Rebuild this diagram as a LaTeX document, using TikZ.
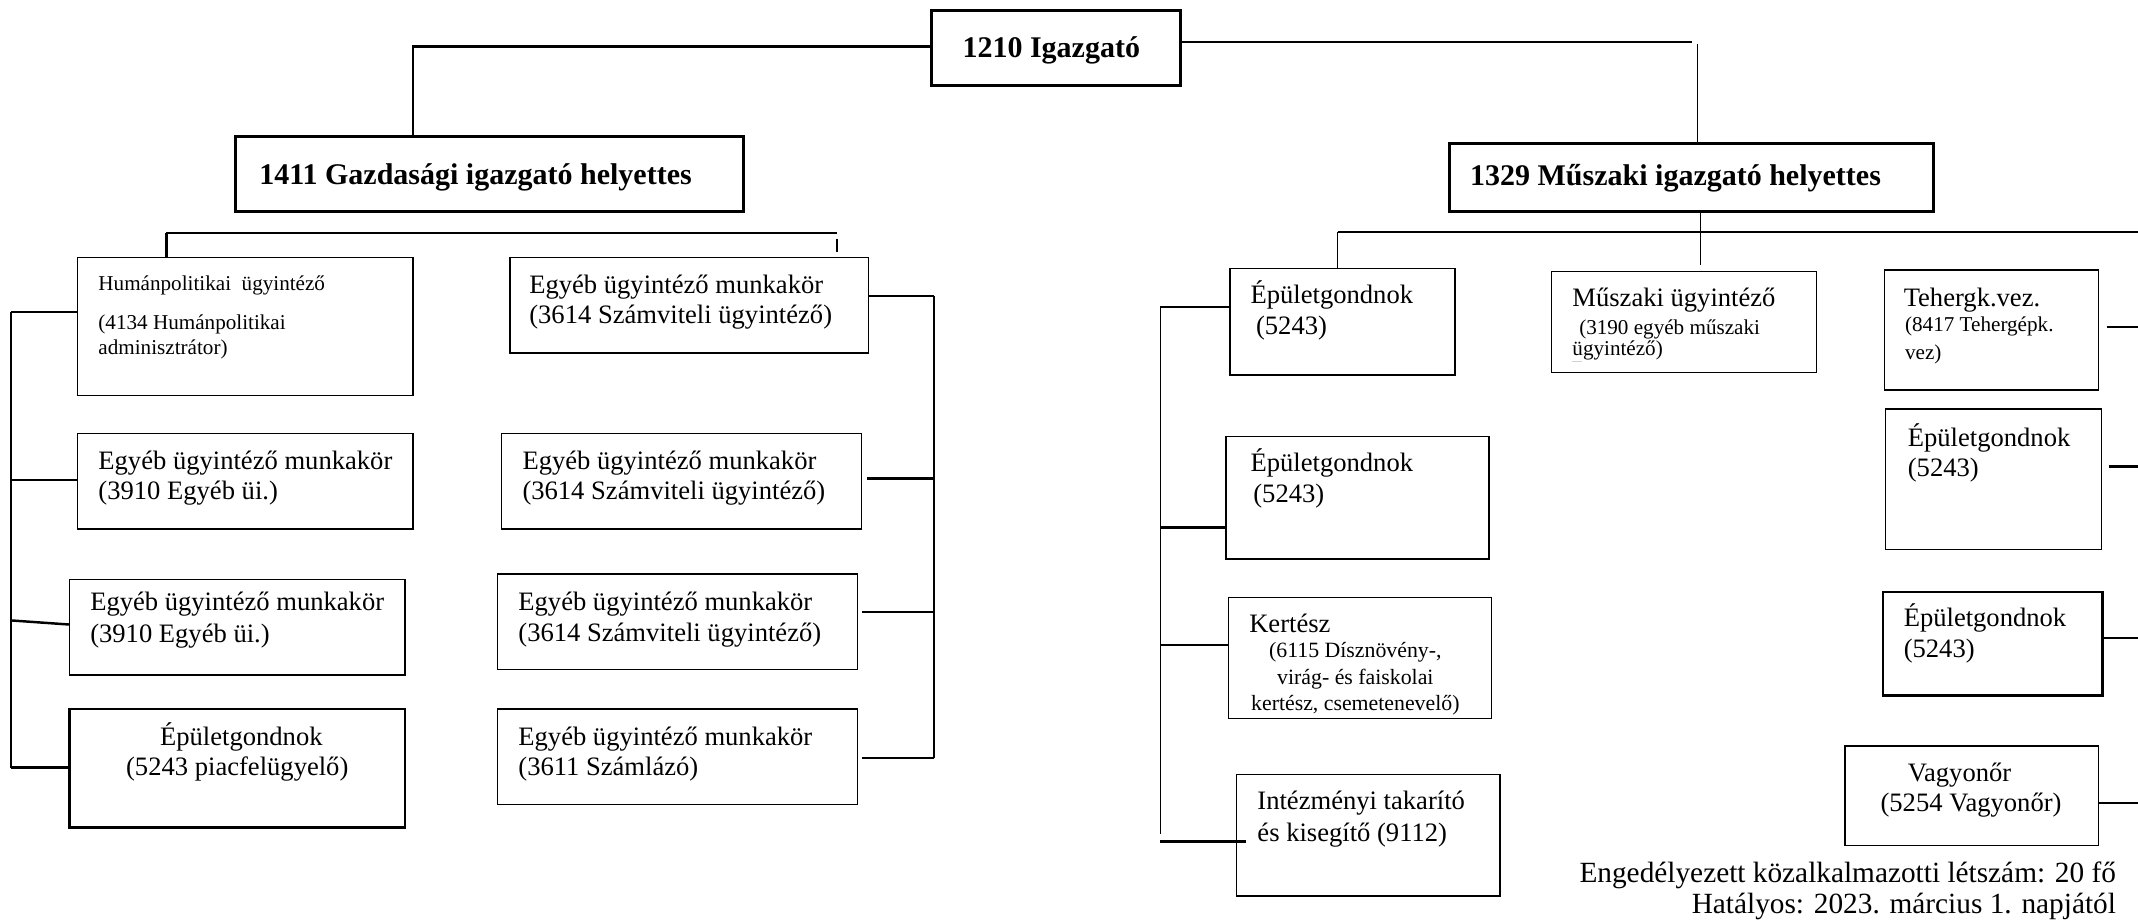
\documentclass[tikz,border=0pt]{standalone}
\usepackage{fontspec}
\setmainfont{Liberation Serif}
\usetikzlibrary{fit}
\begin{document}
\begin{tikzpicture}[x=1pt,y=-1pt,
  box/.style={draw, line width=1pt, inner sep=0pt},
  mbox/.style={box, line width=1.8pt},
  tbox/.style={box, line width=2.2pt},
  conn/.style={line width=1.8pt},
  thin/.style={line width=1.1pt},
  nt/.style={inner sep=0pt, anchor=base west, font=\fontsize{19.5}{22}\selectfont},
  st/.style={nt, font=\fontsize{15.5}{18}\selectfont},
  kt/.style={inner sep=0pt, anchor=base, font=\fontsize{16}{18}\selectfont},
  bt/.style={inner sep=0pt, anchor=base west, font=\fontsize{22}{26}\selectfont\bfseries}]
\useasboundingbox (0,0) rectangle (1568,675);

% ---------- boxes ----------
\node[tbox, fit={(683,8) (866,63)}] (boss) {};
\node[tbox, fit={(173,100) (545,155)}] (gaz) {};
\node[tbox, fit={(1063,105) (1418,155)}] (mus) {};

\node[box, fit={(57,189) (303,290)}] (L1) {};
\node[box, fit={(57,318) (303,388)}] (L2) {};
\node[box, fit={(51,425) (297,495)}] (L3) {};
\node[mbox, fit={(51,520) (297,607)}] (L4) {};
\node[box, fit={(374,189) (637,259)}] (R1) {};
\node[box, fit={(368,318) (632,388)}] (R2) {};
\node[box, fit={(365,421) (629,491)}] (R3) {};
\node[box, fit={(365,520) (629,590)}] (R4) {};

\node[box, fit={(902,197) (1067,275)}] (E1) {};
\node[box, fit={(1138,199) (1332,273)}] (MU) {};
\node[box, fit={(1382,198) (1539,286)}] (T) {};
\node[box, fit={(899,320) (1092,410)}] (E2) {};
\node[box, fit={(901,438) (1094,527)}] (K) {};
\node[box, fit={(907,568) (1100,657)}] (I) {};
\node[box, fit={(1383,300) (1541,403)}] (E2r) {};
\node[mbox, fit={(1381,434) (1542,510)}] (E3r) {};
\node[box, fit={(1353,547) (1539,620)}] (V) {};

% ---------- texts ----------
\node[bt, anchor=base] (tboss) at (771,42) {1210 Igazgató};
\node[bt] (tgaz) at (190,135) {1411 Gazdasági igazgató helyettes};
\node[bt] (tmus) at (1078,136) {1329 Műszaki igazgató helyettes};

\node[st] (tL1a) at (72,213) {Humánpolitikai\ \ ügyintéző};
\node[st] (tL1b) at (72,242) {(4134 Humánpolitikai};
\node[st] (tL1c) at (72,260) {adminisztrátor)};
\node[nt] (tL2a) at (72,344.5) {Egyéb ügyintéző munkakör};
\node[nt] (tL2b) at (72,366.5) {(3910 Egyéb üi.)};
\node[nt] (tL3a) at (66,447.5) {Egyéb ügyintéző munkakör};
\node[nt] (tL3b) at (66,471) {(3910 Egyéb üi.)};
\node[nt, anchor=base] (tL4a) at (177,546.5) {Épületgondnok};
\node[nt, anchor=base] (tL4b) at (174,568.5) {(5243 piacfelügyelő)};

\node[nt] (tR1a) at (388,215.5) {Egyéb ügyintéző munkakör};
\node[nt] (tR1b) at (388,237.5) {(3614 Számviteli ügyintéző)};
\node[nt] (tR2a) at (383,344.5) {Egyéb ügyintéző munkakör};
\node[nt] (tR2b) at (383,366.5) {(3614 Számviteli ügyintéző)};
\node[nt] (tR3a) at (380,447.5) {Egyéb ügyintéző munkakör};
\node[nt] (tR3b) at (380,470.5) {(3614 Számviteli ügyintéző)};
\node[nt] (tR4a) at (380,546.5) {Egyéb ügyintéző munkakör};
\node[nt] (tR4b) at (380,568.5) {(3611 Számlázó)};

\node[nt] (tE1a) at (917,222.5) {Épületgondnok};
\node[nt] (tE1b) at (921,245.5) {(5243)};
\node[nt] (tMUa) at (1153,224.5) {Műszaki ügyintéző};
\node[st] (tMUb) at (1158,245) {(3190 egyéb műszaki};
\node[st] (tMUc) at (1153,261) {ügyintéző)};
\node[nt] (tTa) at (1396,224.5) {Tehergk.vez.};
\node[st] (tTb) at (1397,243) {(8417 Tehergépk.};
\node[st] (tTc) at (1397,264) {vez)};
\node[nt] (tE2a) at (917,345.5) {Épületgondnok};
\node[nt] (tE2b) at (919,368.5) {(5243)};
\node[nt] (tKa) at (916,463.5) {Kertész};
\node[kt] (tKb) at (994,482) {(6115 Dísznövény-,};
\node[kt] (tKc) at (994,502) {virág- és faiskolai};
\node[kt] (tKd) at (994,521) {kertész, csemetenevelő)};
\node[nt] (tIa) at (922,593.5) {Intézményi takarító};
\node[nt] (tIb) at (922,617.5) {és kisegítő (9112)};
\node[nt] (tE2ra) at (1399,327.5) {Épületgondnok};
\node[nt] (tE2rb) at (1399,349.5) {(5243)};
\node[nt] (tE3ra) at (1396,459.5) {Épületgondnok};
\node[nt] (tE3rb) at (1396,482.5) {(5243)};
\node[nt] (tVa) at (1399,573.5) {Vagyonőr};
\node[nt] (tVb) at (1379,595.5) {(5254 Vagyonőr)};

\node[inner sep=0pt, anchor=base east, font=\fontsize{21.5}{25}\selectfont] (f1) at (1552,647) {Engedélyezett közalkalmazotti létszám: 20 fő};
\node[inner sep=0pt, anchor=base east, font=\fontsize{21.5}{25}\selectfont] (f2) at (1552,670) {Hatályos: 2023. március 1. napjától};

% yellow spelling mark
\draw[yellow!85!orange, line width=1pt] (1153,265) -- (1160,265);

% ---------- connectors ----------
\coordinate (g1) at (303,34);
\draw[conn] (boss.west |- g1) -- (g1) -- (gaz.north -| g1);
\coordinate (m1) at (1241,31);
\coordinate (m2) at (1245,32);
\draw[conn] (boss.east |- m1) -- (m1);
\draw[thin] (m2) -- (mus.north -| m2);

% Gazdasági sub-bar
\coordinate (gb1) at (122,171);
\coordinate (gb2) at (614,171);
\coordinate (gb3) at (614,175);
\draw[conn] (gb1) -- (gb2);
\draw[conn] (gb1) -- (L1.north -| gb1);
\draw[conn] (gb3) -- ([yshift=4pt]R1.north -| gb3);

% left bracket
\coordinate (ls1) at (8,229);
\coordinate (ls2) at (8,352);
\coordinate (ls3) at (8,455);
\coordinate (ls4) at (8,563);
\draw[thin] (ls1) -- (ls4);
\draw[conn] (ls1) -- (L1.west |- ls1);
\draw[conn] (ls2) -- (L2.west |- ls2);
\draw[conn] (ls3) -- (L3.west |- 0,458);
\draw[conn] (ls4) -- (L4.west |- ls4);

% right bracket of Gazdasági branch
\coordinate (rs1) at (685,217);
\coordinate (rs2) at (685,351);
\coordinate (rs3) at (685,449);
\coordinate (rs4) at (685,556);
\draw[thin] (rs1) -- (rs4);
\draw[conn] (rs1) -- (R1.east |- rs1);
\draw[conn] (rs2) -- ([xshift=3pt]R2.east |- rs2);
\draw[conn] (rs3) -- ([xshift=3pt]R3.east |- rs3);
\draw[conn] (rs4) -- ([xshift=3pt]R4.east |- rs4);

% Műszaki sub-bar
\coordinate (mb1) at (981,170);
\coordinate (mb2) at (1568,170);
\coordinate (mb3) at (1247,170);
\draw[conn] (mb1) -- (mb2);
\draw[thin] (mb1) -- (E1.north -| mb1);
\draw[thin] (mus.south -| mb3) -- ([yshift=4pt]MU.north -| mb3);

% left bracket of Műszaki branch
\coordinate (ms1) at (851,225);
\coordinate (ms2) at (851,387);
\coordinate (ms3) at (851,473);
\coordinate (ms4) at (851,617);
\draw[thin] (ms1) -- ([yshift=5pt]ms4);
\draw[conn] (ms1) -- (E1.west |- ms1);
\draw[conn] (ms2) -- (E2.west |- ms2);
\draw[conn] (ms3) -- (K.west |- ms3);
\draw[conn] (ms4) -- ([xshift=7pt]I.west |- ms4);

% far right stubs
\coordinate (fr1) at (1568,240);
\coordinate (fr2) at (1568,342);
\coordinate (fr3) at (1568,468);
\coordinate (fr4) at (1568,589);
\draw[conn] ([xshift=6pt]T.east |- fr1) -- (fr1);
\draw[conn] ([xshift=5pt]E2r.east |- fr2) -- (fr2);
\draw[conn] (E3r.east |- fr3) -- (fr3);
\draw[conn] (V.east |- fr4) -- (fr4);
\end{tikzpicture}
\end{document}
